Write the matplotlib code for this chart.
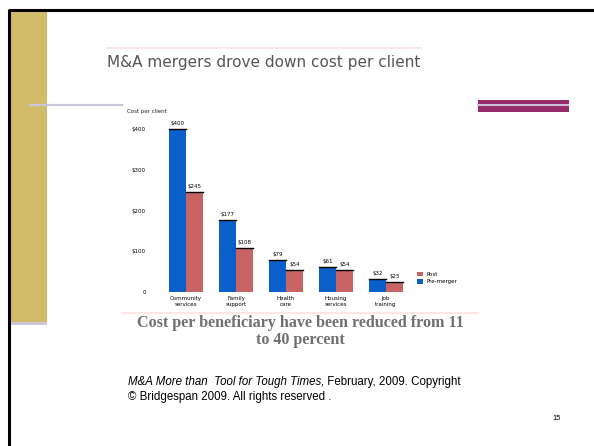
import numpy as np
import matplotlib.pyplot as plt
from matplotlib.patches import Rectangle

# 数据
groups = ["Community\nservices", "Family\nsupport", "Health\ncare", "Housing\nservices", "Job\ntraining"]
pre_merger = [400, 177, 79, 61, 32]
post_merger = [245, 108, 54, 54, 25]
y_ticks = [0, 100, 200, 300, 400]
y_tick_labels = ["0", "$100", "$200", "$300", "$400"]

blue = "#0A5FCB"
red = "#C96464"

fig = plt.figure(figsize=(5.94, 4.46), dpi=100)

# ---------- 幻灯片背景（像素坐标） ----------
bg = fig.add_axes([0, 0, 1, 1])
bg.set_xlim(0, 594)
bg.set_ylim(446, 0)
bg.axis("off")

bg.add_patch(Rectangle((10, 10), 37, 312, color="#D2BC6A", lw=0))
bg.add_patch(Rectangle((10, 322), 37, 3, color="#CCC6DA", lw=0))
bg.plot([8.5, 594], [9.5, 9.5], color="black", lw=2.2, solid_capstyle="butt")
bg.plot([8.5, 8.5], [9, 446], color="black", lw=2.2, solid_capstyle="butt")
bg.plot([30, 122], [105, 105], color="#CCC6DA", lw=1.6)
bg.add_patch(Rectangle((478, 100), 91, 12, color="#962B6B", lw=0))
bg.plot([478, 568], [105, 105], color="#CCC6DA", lw=1.4)

# 粉色细线
bg.plot([107, 421], [48, 48], color="#FFE0E0", lw=1.2)
bg.plot([122, 478], [313, 313], color="#FFE0E0", lw=1.2)

bg.text(107, 62, "M&A mergers drove down cost per client", fontsize=11,
        color="#555555", va="center", ha="left")
bg.text(127, 112, "Cost per client", fontsize=4, color="#222222", va="center")

bg.text(300, 315, "Cost per beneficiary have been reduced from 11\nto 40 percent",
        fontsize=11.6, family="Liberation Serif", fontweight="bold", color="#707070",
        ha="center", va="top", linespacing=1.1)

t1 = bg.text(128, 382, "M&A More than  Tool for Tough Times,", fontsize=8.3,
             family="Liberation Sans", style="italic", va="center", ha="left")
bg.annotate(" February, 2009. Copyright", xy=(1, 0.5), xycoords=t1,
            fontsize=8.3, family="Liberation Sans", va="center", ha="left")
bg.text(128, 397, "\u00a9 Bridgespan 2009. All rights reserved .", fontsize=8.3,
        family="Liberation Sans", va="center", ha="left")
bg.text(557, 419, "15", fontsize=5.5, family="Liberation Sans", ha="center", va="center")

# ---------- 柱状图 ----------
ax = fig.add_axes([150 / 594, (446 - 292) / 446, 260 / 594, 167 / 446])
x = np.arange(len(groups))
w = 0.34
b1 = ax.bar(x - w / 2, pre_merger, w, color=blue, label="Pre-merger")
b2 = ax.bar(x + w / 2, post_merger, w, color=red, label="Post")

for rect, v in list(zip(b1, pre_merger)) + list(zip(b2, post_merger)):
    ax.plot([rect.get_x(), rect.get_x() + rect.get_width()], [v, v],
            color="black", lw=1.0)
    ax.text(rect.get_x() + rect.get_width() / 2, v + 8, f"${v}",
            ha="center", va="bottom", fontsize=4)

ax.set_xlim(-0.72, 4.48)
ax.set_ylim(0, 410)
ax.set_yticks(y_ticks)
ax.set_yticklabels(y_tick_labels, fontsize=4)
ax.set_xticks(x)
ax.set_xticklabels(groups, fontsize=4)
ax.tick_params(length=0, pad=3)
for s in ax.spines.values():
    s.set_visible(False)

handles, labels = ax.get_legend_handles_labels()
fig.legend(handles[::-1], labels[::-1], loc="center left",
           bbox_to_anchor=(412 / 594, 1 - 278 / 446), fontsize=4,
           frameon=False, handlelength=1.0, handleheight=1.0, labelspacing=0.4)

fig.savefig("out.png", dpi=100)
